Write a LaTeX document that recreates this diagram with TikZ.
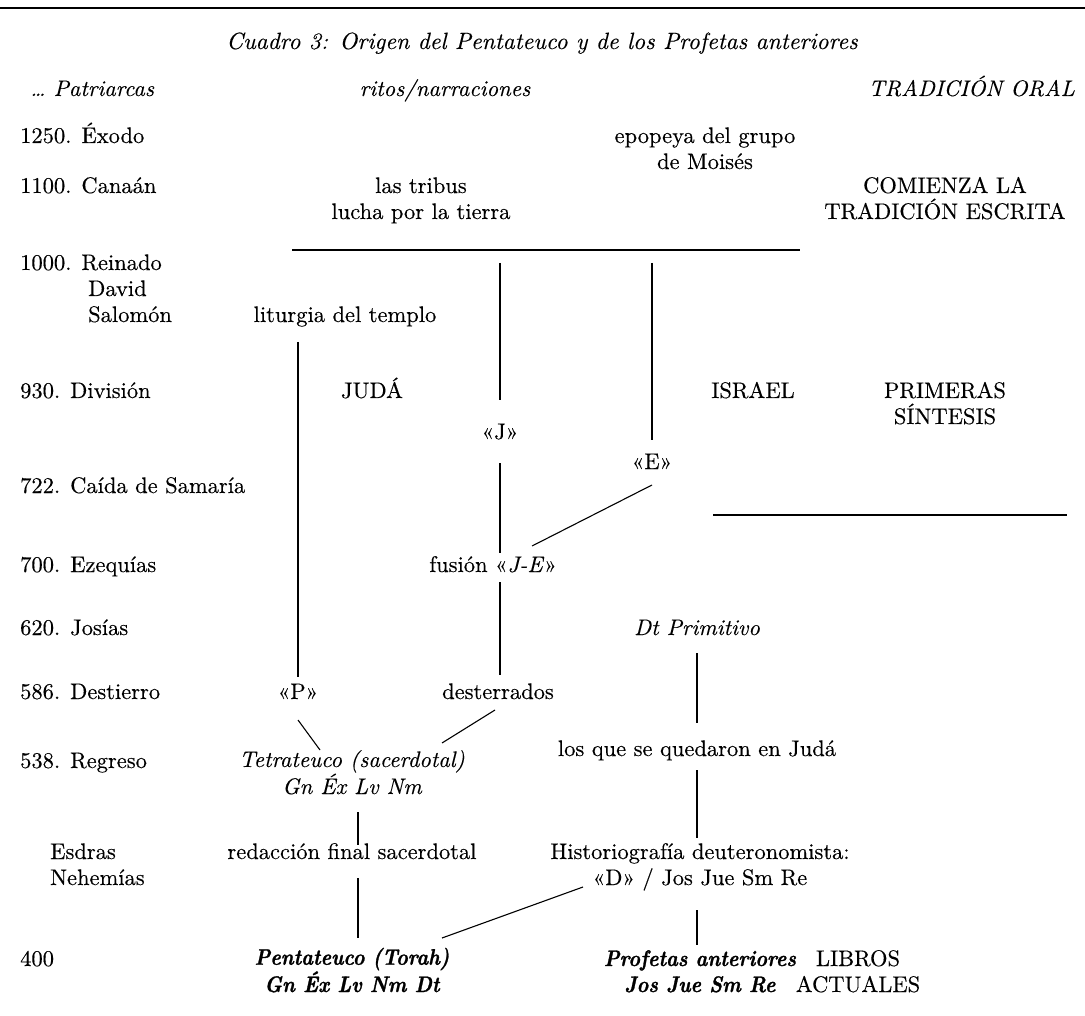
\documentclass[tikz,border=0pt]{standalone}
\usepackage{fontspec}
\setmainfont{lmroman10-regular.otf}[
  ItalicFont=lmroman10-italic.otf,
  UprightFeatures={FakeBold=0.3},
  ItalicFeatures={FakeBold=0.2}]
\newfontfamily\bolditfont{lmroman10-bolditalic.otf}[FakeStretch=0.88, FakeBold=1.2]
\usetikzlibrary{calc}
\begin{document}
\begin{tikzpicture}[x=1pt,y=-1pt,
  txt/.style={inner sep=0pt, anchor=base, align=center, font=\fontsize{22.5}{26}\selectfont},
  lft/.style={txt, anchor=base west, align=left},
  it/.style={txt, font=\fontsize{22.5}{26}\selectfont\itshape},
  bit/.style={txt, font=\fontsize{22.5}{26}\selectfont\bolditfont},
  link/.style={line width=1.1pt},
  rule/.style={line width=1.5pt}]
\useasboundingbox (0,0) rectangle (1085,1016);

% rules (multi-line nodes are placed by the baseline of their last line)
\coordinate (ruleL) at (0,8);
\coordinate (ruleR) at (1085,8);
\draw[rule] (ruleL) -- (ruleR);
\coordinate (barA) at (292,250);
\coordinate (barB) at (800,250);
\coordinate (barC) at (713,515);
\coordinate (barD) at (1067,515);
\draw[link] (barA) -- (barB);
\draw[link] (barC) -- (barD);

% title and headings
\node[it, font=\fontsize{23.5}{26}\selectfont\itshape] (title) at (542,49) {Cuadro 3: Origen del Pentateuco y de los Profetas anteriores};
\node[it, anchor=base west] (patr) at (30,96) {\ldots\ Patriarcas};
\node[it] (ritos) at (445,96) {ritos/narraciones};
\node[it, anchor=base east] (oral) at (1075,96) {TRADICIÓN ORAL};

% dates
\node[lft] (y1250) at (20,143) {1250. Éxodo};
\node[lft] (y1100) at (20,193) {1100. Canaán};
\node[lft] (y1000) at (20,322) {1000. Reinado\\\hspace*{68pt}David\\\hspace*{68pt}Salomón};
\node[lft] (y930) at (20,398) {930. División};
\node[lft] (y722) at (20,493) {722. Caída de Samaría};
\node[lft] (y700) at (20,572) {700. Ezequías};
\node[lft] (y620) at (20,635) {620. Josías};
\node[lft] (y586) at (20,699) {586. Destierro};
\node[lft] (y538) at (20,768) {538. Regreso};
\node[lft] (esdras) at (50,885) {Esdras\\Nehemías};
\node[lft] (y400) at (20,966) {400};

% traditions
\node[txt] (epopeya) at (705,169) {epopeya del grupo\\de Moisés};
\node[txt] (tribus) at (421,219) {las tribus\\lucha por la tierra};
\node[txt] (escrita) at (945,219) {COMIENZA LA\\TRADICIÓN ESCRITA};
\node[txt] (lit) at (345,322) {liturgia del templo};
\node[txt] (juda) at (372,398) {JUDÁ};
\node[txt] (israel) at (753,398) {ISRAEL};
\node[txt] (sintesis) at (945,424) {PRIMERAS\\SÍNTESIS};
\node[txt] (J) at (500,439) {«J»};
\node[txt] (E) at (652,469) {«E»};
\node[txt] (fusion) at (493,572) {fusión «\textit{J-E}»};
\node[it] (dt) at (697,635) {Dt Primitivo};
\node[txt] (P) at (298,699) {«P»};
\node[txt] (dest) at (498,699) {desterrados};
\node[it] (tetra) at (352,794) {Tetrateuco (sacerdotal)\\Gn Éx Lv Nm};
\node[txt] (quedaron) at (697,756) {los que se quedaron en Judá};
\node[txt] (red) at (352,859) {redacción final sacerdotal};
\node[txt] (hist) at (700,885) {Historiografía deuteronomista:\\«D» / Jos Jue Sm Re};
\node[bit] (pent) at (352,992) {Pentateuco (Torah)\\Gn Éx Lv Nm Dt};
\node[bit] (prof) at (700,992) {Profetas anteriores\\Jos Jue Sm Re};
\node[txt] (libros) at (858,992) {LIBROS\\ACTUALES};

% connectors
\draw[link] ($(J.base)+(0,-176)$) -- ($(J.base)+(0,-39)$);
\draw[link] ($(E.base)+(0,-206)$) -- ($(E.base)+(0,-29)$);
\draw[link] ($(J.base)+(0,24)$) -- ($(J.base |- fusion.base)+(0,-19)$);
\draw[link] ($(E.base)+(0,16)$) -- ($(fusion.base)+(39,-26)$);
\draw[link] ($(P.base |- lit.base)+(0,20)$) -- ($(P.base)+(0,-22)$);
\draw[link] ($(J.base |- fusion.base)+(0,10)$) -- ($(J.base |- dest.base)+(0,-24)$);
\draw[link] ($(P.base)+(0,21)$) -- ($(tetra.base)+(-32,-44)$);
\draw[link] ($(dest.base)+(-3,11)$) -- ($(tetra.base)+(90,-51)$);
\draw[link] ($(tetra.base)+(6,18)$) -- ($(red.base)+(6,-14)$);
\draw[link] ($(red.base)+(6,19)$) -- ($(pent.base)+(6,-54)$);
\draw[link] ($(dt.base)+(0,18)$) -- ($(quedaron.base)+(0,-33)$);
\draw[link] ($(quedaron.base)+(0,14)$) -- ($(hist.base)+(-3,-47)$);
\draw[link] ($(hist.base)+(-3,25)$) -- ($(prof.base)+(-3,-47)$);
\draw[link] ($(hist.base)+(-117,2)$) -- ($(pent.base)+(90,-54)$);
\end{tikzpicture}
\end{document}
